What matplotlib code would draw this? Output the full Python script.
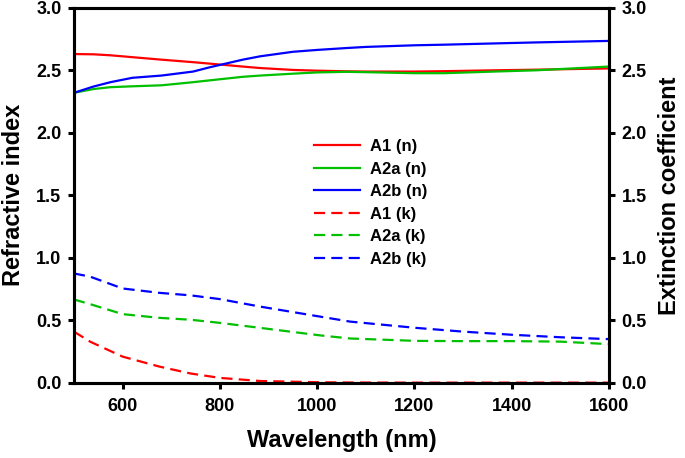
import numpy as np
import matplotlib
matplotlib.use("Agg")
import matplotlib.pyplot as plt

plt.rcParams["font.family"] = ["Liberation Sans", "DejaVu Sans"]
plt.rcParams["font.weight"] = "bold"

# refractive index n
wl_n = [500, 540, 575, 620, 680, 745, 780, 847, 883, 950, 1000, 1060, 1100, 1200, 1262, 1365, 1450, 1600]
a1_n = [2.63, 2.628, 2.62, 2.605, 2.585, 2.565, 2.553, 2.53, 2.518, 2.503, 2.497, 2.492, 2.49, 2.49, 2.493, 2.50, 2.505, 2.515]
a2a_n = [2.32, 2.35, 2.365, 2.372, 2.38, 2.405, 2.42, 2.448, 2.458, 2.473, 2.483, 2.488, 2.485, 2.477, 2.477, 2.49, 2.50, 2.53]
a2b_n = [2.32, 2.37, 2.405, 2.44, 2.458, 2.49, 2.525, 2.585, 2.612, 2.648, 2.663, 2.678, 2.687, 2.70, 2.705, 2.715, 2.723, 2.735]

# extinction coefficient k
wl_k = [500, 533, 600, 676, 740, 800, 883, 1006, 1068, 1203, 1300, 1400, 1500, 1600]
a1_k = [0.41, 0.33, 0.21, 0.13, 0.075, 0.04, 0.015, 0.005, 0.003, 0.002, 0.002, 0.002, 0.002, 0.002]
a2a_k = [0.667, 0.63, 0.55, 0.52, 0.505, 0.48, 0.44, 0.38, 0.355, 0.336, 0.334, 0.334, 0.33, 0.31]
a2b_k = [0.875, 0.85, 0.755, 0.72, 0.70, 0.67, 0.61, 0.53, 0.49, 0.44, 0.41, 0.385, 0.365, 0.35]

fig = plt.figure(figsize=(6.85, 4.58), dpi=100)
ax = fig.add_axes([0.108, 0.164, 0.781, 0.819])

red, green, blue = "#ff0000", "#00c000", "#0000ff"
lw = 1.6
dash = (5.0, 2.8)
ax.plot(wl_n, a1_n, color=red, lw=lw, label="A1 (n)")
ax.plot(wl_n, a2a_n, color=green, lw=lw, label="A2a (n)")
ax.plot(wl_n, a2b_n, color=blue, lw=lw, label="A2b (n)")
ax.plot(wl_k, a1_k, color=red, lw=lw, dashes=dash, label="A1 (k)")
ax.plot(wl_k, a2a_k, color=green, lw=lw, dashes=dash, label="A2a (k)")
ax.plot(wl_k, a2b_k, color=blue, lw=lw, dashes=dash, label="A2b (k)")

ax.set_xlim(500, 1600)
ax.set_ylim(0, 3.0)
ax.set_xticks([600, 800, 1000, 1200, 1400, 1600])
ax.set_yticks(np.arange(0, 3.01, 0.5))
ax.yaxis.set_major_formatter(matplotlib.ticker.FormatStrFormatter("%.1f"))

ax2 = ax.twinx()
ax2.set_ylim(0, 3.0)
ax2.set_yticks(np.arange(0, 3.01, 0.5))
ax2.yaxis.set_major_formatter(matplotlib.ticker.FormatStrFormatter("%.1f"))

for a in (ax, ax2):
    for s in a.spines.values():
        s.set_linewidth(2.2)
    a.tick_params(direction="out", width=2.2, length=4, labelsize=13, pad=5)
ax.tick_params(axis="x", pad=7)

ax.set_xlabel("Wavelength (nm)", fontsize=17, fontweight="bold", labelpad=10)
ax.set_ylabel("Refractive index", fontsize=17, fontweight="bold", labelpad=8)
ax2.set_ylabel("Extinction coefficient", fontsize=17, fontweight="bold", labelpad=8)

ax.legend(loc="upper left", bbox_to_anchor=(0.42, 0.69), frameon=False,
          handlelength=2.8, labelspacing=0.45, handletextpad=0.6,
          prop={"weight": "bold", "size": 12})

fig.savefig("out.png", dpi=100)
